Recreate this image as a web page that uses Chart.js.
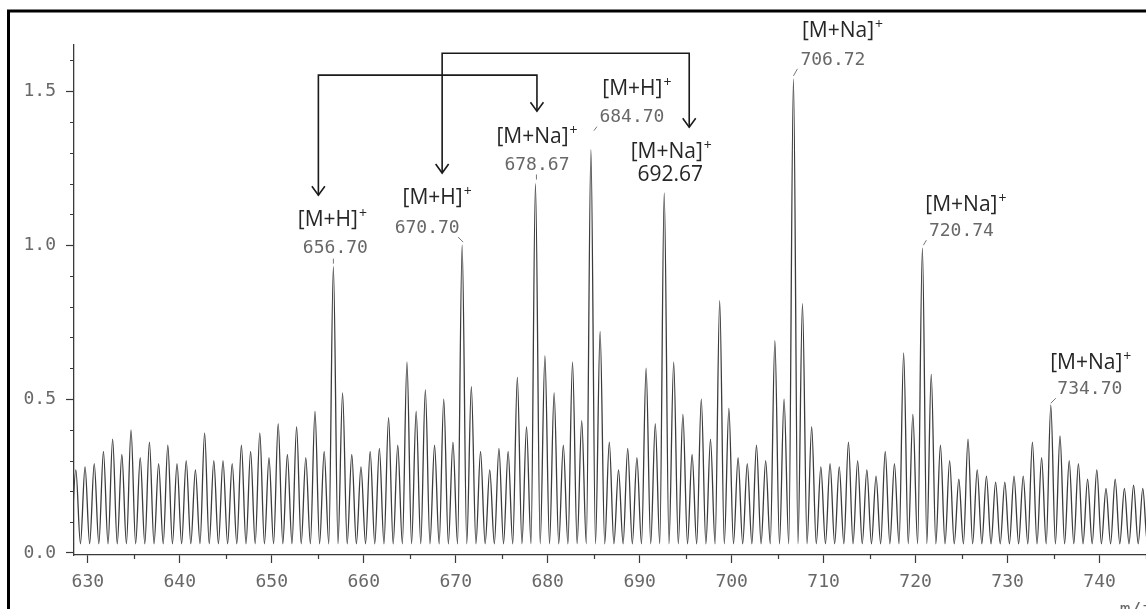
<!DOCTYPE html>
<html>
<head>
<meta charset="utf-8">
<title>ESI-MS spectrum</title>
<script src="https://cdn.jsdelivr.net/npm/chart.js@4.4.0/dist/chart.umd.min.js"></script>
<style>
  html, body { margin: 0; padding: 0; background: #fff; overflow: hidden; }
  canvas { display: block; }
</style>
</head>
<body>
<canvas id="spectrum" width="1146" height="609"></canvas>
<script>
// peak centres (m/z), one per cluster peak
var peakMz = [
  628.7, 629.7, 630.7, 631.7, 632.7, 633.7, 634.7, 635.7, 636.7, 637.7,
  638.7, 639.7, 640.7, 641.7, 642.7, 643.7, 644.7, 645.7, 646.7, 647.7,
  648.7, 649.7, 650.7, 651.7, 652.7, 653.7, 654.7, 655.7, 656.70, 657.7,
  658.7, 659.7, 660.7, 661.7, 662.7, 663.7, 664.7, 665.7, 666.7, 667.7,
  668.7, 669.7, 670.70, 671.7, 672.7, 673.7, 674.7, 675.7, 676.7, 677.7,
  678.67, 679.7, 680.7, 681.7, 682.7, 683.7, 684.70, 685.7, 686.7, 687.7,
  688.7, 689.7, 690.7, 691.7, 692.67, 693.7, 694.7, 695.7, 696.7, 697.7,
  698.7, 699.7, 700.7, 701.7, 702.7, 703.7, 704.7, 705.7, 706.72, 707.7,
  708.7, 709.7, 710.7, 711.7, 712.7, 713.7, 714.7, 715.7, 716.7, 717.7,
  718.7, 719.7, 720.74, 721.7, 722.7, 723.7, 724.7, 725.7, 726.7, 727.7,
  728.7, 729.7, 730.7, 731.7, 732.7, 733.7, 734.70, 735.7, 736.7, 737.7,
  738.7, 739.7, 740.7, 741.7, 742.7, 743.7, 744.7, 745.7
];

// relative intensity at each peak centre
var peakIntensity = [
  0.27, 0.28, 0.29, 0.33, 0.37, 0.32, 0.40, 0.31, 0.36, 0.29,
  0.35, 0.29, 0.30, 0.27, 0.39, 0.30, 0.30, 0.29, 0.35, 0.33,
  0.39, 0.31, 0.42, 0.32, 0.41, 0.31, 0.46, 0.33, 0.93, 0.52,
  0.32, 0.28, 0.33, 0.34, 0.44, 0.35, 0.62, 0.46, 0.53, 0.35,
  0.50, 0.36, 1.00, 0.54, 0.33, 0.27, 0.34, 0.33, 0.57, 0.41,
  1.20, 0.64, 0.52, 0.35, 0.62, 0.43, 1.31, 0.72, 0.36, 0.27,
  0.34, 0.31, 0.60, 0.42, 1.17, 0.62, 0.45, 0.32, 0.50, 0.37,
  0.82, 0.47, 0.31, 0.29, 0.35, 0.30, 0.69, 0.50, 1.54, 0.81,
  0.41, 0.28, 0.29, 0.28, 0.36, 0.30, 0.27, 0.25, 0.33, 0.29,
  0.65, 0.45, 0.99, 0.58, 0.35, 0.30, 0.24, 0.37, 0.27, 0.25,
  0.23, 0.23, 0.25, 0.25, 0.36, 0.31, 0.48, 0.38, 0.30, 0.29,
  0.24, 0.27, 0.21, 0.24, 0.21, 0.22, 0.21, 0.20
];

// signal level in the troughs between peaks
var troughLevel = 0.03;

// assigned ions
var ionMz = [656.70, 670.70, 678.67, 684.70, 692.67, 706.72, 720.74, 734.70];
var ionType = ["[M+H]", "[M+H]", "[M+Na]", "[M+H]", "[M+Na]", "[M+Na]", "[M+Na]", "[M+Na]"];

// [M+H]+ -> [M+Na]+ pairs joined by bracket arrows
var ionPairs = [[656.70, 678.67], [670.70, 692.67]];

// axis ticks
var xTicks = [630, 640, 650, 660, 670, 680, 690, 700, 710, 720, 730, 740];
var xMinorTicks = [635, 645, 655, 665, 675, 685, 695, 705, 715, 725, 735, 745];
var yTicks = [0, 0.5, 1.0, 1.5];
var yMinorTicks = [0.1, 0.2, 0.3, 0.4, 0.6, 0.7, 0.8, 0.9, 1.1, 1.2, 1.3, 1.4, 1.6];

var axisColor = "#3a3a3a";
var plotterGray = "#686868";
var plotterFont = '"DejaVu Sans Mono", monospace';
var labelFont = '"Open Sans", "Noto Sans", sans-serif';

// label placement around each assigned peak, in pixels from the apex
// [numberDx, numberDy, ionDx, ionDy, plain typeset number]
var ionLabelLayout = [
  [2, -18, -1, -47, false],
  [-35, -17, -25, -47, false],
  [1.5, -18, 1.5, -47, false],
  [41, -32, 46, -61, false],
  [6, -18, 7, -41, true],
  [39.5, -19, 49, -48, false],
  [39, -17, 43.5, -43, false],
  [39, -16, 40, -42, false]
];

// short pen strokes left by the plotter above a labelled apex [x1, y1, x2, y2]
var leaderLayout = [
  [0, -3, 0, -8],
  [1, -3, -4, -8],
  [1, -4, 1, -9],
  [3, -19, 6, -23],
  null,
  [0, -3, 4, -10],
  [1, -3, 4, -8],
  [0, -2, 5, -7]
];

// bracket arrows: horizontal offsets from the two peaks, bar level and arrow tips (y units)
var arrowLayout = [
  { fromDx: -15, toDx: 1.5, bar: 1.552, fromTip: 1.162, toTip: 1.435 },
  { fromDx: -20, toDx: 25, bar: 1.623, fromTip: 1.234, toTip: 1.383 }
];

/**
 * Builds the continuous trace: a trough before every peak, then its apex.
 */
function buildTrace() {
  var points = [];
  for (var i = 0; i < peakMz.length; i++) {
    var trough = i === 0 ? peakMz[0] - 0.5 : (peakMz[i - 1] + peakMz[i]) / 2;
    points.push({ x: trough, y: troughLevel });
    points.push({ x: peakMz[i], y: peakIntensity[i] });
  }
  points.push({ x: peakMz[peakMz.length - 1] + 0.5, y: troughLevel });
  return points;
}

/**
 * Intensity of the peak sitting at a given m/z.
 */
function intensityAt(mz) {
  return peakIntensity[peakMz.indexOf(mz)];
}

/**
 * Draws an ion label like [M+Na]+ centred on cx, with a raised plus sign.
 */
function drawIonLabel(ctx, text, cx, cy) {
  ctx.font = "21px " + labelFont;
  var w = ctx.measureText(text).width;
  ctx.font = "14px " + labelFont;
  var ws = ctx.measureText("+").width;
  var x = cx - (w + ws + 1) / 2;
  ctx.textAlign = "left";
  ctx.textBaseline = "middle";
  ctx.fillStyle = "#262626";
  ctx.font = "21px " + labelFont;
  ctx.fillText(text, x, cy);
  ctx.font = "14px " + labelFont;
  ctx.fillText("+", x + w + 1, cy - 6);
}

/**
 * Draws an open V arrow head pointing down with its tip at (x, y).
 */
function drawArrowHead(ctx, x, y) {
  ctx.beginPath();
  ctx.moveTo(x - 6.5, y - 9);
  ctx.lineTo(x, y);
  ctx.lineTo(x + 6.5, y - 9);
  ctx.stroke();
}

var paperPlugin = {
  id: "paper",
  beforeDraw: function (chart) {
    var ctx = chart.ctx;
    ctx.save();
    ctx.fillStyle = "#fff";
    ctx.fillRect(0, 0, chart.width, chart.height);
    ctx.restore();
  },
  afterDraw: function (chart) {
    var ctx = chart.ctx;
    var xs = chart.scales.x;
    var ys = chart.scales.y;
    var area = chart.chartArea;

    ctx.save();

    // minor ticks
    ctx.strokeStyle = axisColor;
    ctx.lineWidth = 1.2;
    ctx.beginPath();
    yMinorTicks.forEach(function (v) {
      var py = Math.round(ys.getPixelForValue(v)) + 0.5;
      ctx.moveTo(area.left - 4, py);
      ctx.lineTo(area.left, py);
    });
    xMinorTicks.forEach(function (v) {
      var px = Math.round(xs.getPixelForValue(v)) + 0.5;
      ctx.moveTo(px, area.bottom);
      ctx.lineTo(px, area.bottom + 4);
    });
    ctx.stroke();

    // peak assignments
    ionMz.forEach(function (mz, i) {
      var layout = ionLabelLayout[i];
      var px = xs.getPixelForValue(mz);
      var py = ys.getPixelForValue(intensityAt(mz));

      ctx.textAlign = "center";
      ctx.textBaseline = "middle";
      if (layout[4]) {
        ctx.font = "21px " + labelFont;
        ctx.fillStyle = "#262626";
      } else {
        ctx.font = "18px " + plotterFont;
        ctx.fillStyle = plotterGray;
      }
      ctx.fillText(mz.toFixed(2), px + layout[0], py + layout[1]);
      drawIonLabel(ctx, ionType[i], px + layout[2], py + layout[3]);

      var lead = leaderLayout[i];
      if (lead) {
        ctx.strokeStyle = "#777";
        ctx.lineWidth = 1;
        ctx.beginPath();
        ctx.moveTo(px + lead[0], py + lead[1]);
        ctx.lineTo(px + lead[2], py + lead[3]);
        ctx.stroke();
      }
    });

    // bracket arrows between related ions
    ctx.strokeStyle = "#1a1a1a";
    ctx.lineWidth = 1.6;
    ionPairs.forEach(function (pair, i) {
      var a = arrowLayout[i];
      var x1 = xs.getPixelForValue(pair[0]) + a.fromDx;
      var x2 = xs.getPixelForValue(pair[1]) + a.toDx;
      var yBar = ys.getPixelForValue(a.bar);
      var y1 = ys.getPixelForValue(a.fromTip);
      var y2 = ys.getPixelForValue(a.toTip);
      ctx.beginPath();
      ctx.moveTo(x1, y1);
      ctx.lineTo(x1, yBar);
      ctx.lineTo(x2, yBar);
      ctx.lineTo(x2, y2);
      ctx.stroke();
      drawArrowHead(ctx, x1, y1);
      drawArrowHead(ctx, x2, y2);
    });

    // axis title, running off the lower edge
    ctx.font = "18px " + plotterFont;
    ctx.fillStyle = plotterGray;
    ctx.textAlign = "left";
    ctx.textBaseline = "top";
    ctx.fillText("m/z", xs.getPixelForValue(742.2), area.bottom + 46);

    // frame
    ctx.strokeStyle = "#000";
    ctx.lineWidth = 3;
    ctx.beginPath();
    ctx.moveTo(8.5, chart.height);
    ctx.lineTo(8.5, 11);
    ctx.lineTo(chart.width, 11);
    ctx.stroke();

    ctx.restore();
  }
};

var ctx = document.getElementById("spectrum").getContext("2d");

var spectrumChart = new Chart(ctx, {
  type: "line",
  data: {
    datasets: [{
      label: "Intensity",
      data: buildTrace(),
      borderColor: "#3c3c3c",
      borderWidth: 1.3,
      pointRadius: 0,
      fill: false,
      cubicInterpolationMode: "monotone"
    }]
  },
  options: {
    responsive: false,
    animation: false,
    layout: {
      padding: { left: 0, top: 45, right: 0, bottom: 0 }
    },
    plugins: {
      legend: { display: false },
      tooltip: { enabled: false }
    },
    scales: {
      x: {
        type: "linear",
        position: "bottom",
        min: 628.5,
        max: 745.05,
        afterBuildTicks: function (scale) {
          scale.ticks = xTicks.map(function (v) { return { value: v }; });
        },
        afterFit: function (scale) {
          scale.height = 54;
        },
        ticks: {
          autoSkip: false,
          maxRotation: 0,
          padding: 9,
          color: plotterGray,
          font: { family: plotterFont, size: 18 },
          callback: function (v) { return String(v); }
        },
        grid: {
          display: true,
          drawOnChartArea: false,
          drawTicks: true,
          tickLength: 8,
          tickColor: axisColor,
          tickWidth: 1.2
        },
        border: { display: true, color: axisColor, width: 1.3 }
      },
      y: {
        type: "linear",
        min: -0.0065,
        max: 1.65,
        afterBuildTicks: function (scale) {
          scale.ticks = yTicks.map(function (v) { return { value: v }; });
        },
        afterFit: function (scale) {
          scale.width = 74;
        },
        ticks: {
          padding: 10,
          color: plotterGray,
          font: { family: plotterFont, size: 18 },
          callback: function (v) { return v.toFixed(1); }
        },
        grid: {
          display: true,
          drawOnChartArea: false,
          drawTicks: true,
          tickLength: 8,
          tickColor: axisColor,
          tickWidth: 1.2
        },
        border: { display: true, color: axisColor, width: 1.3 }
      }
    }
  },
  plugins: [paperPlugin]
});
</script>
</body>
</html>
